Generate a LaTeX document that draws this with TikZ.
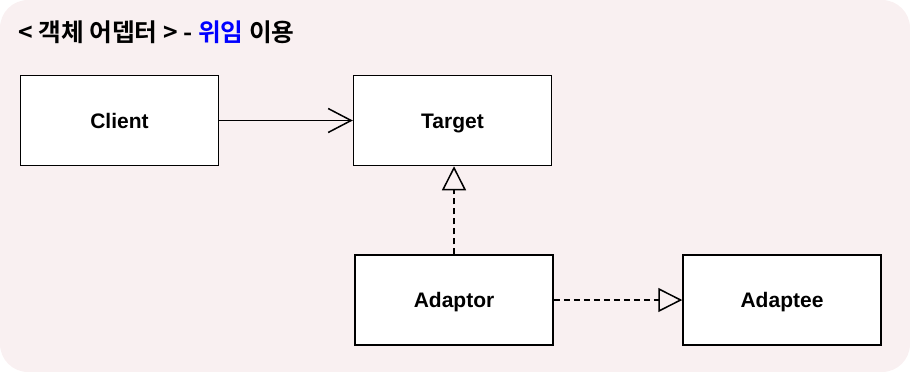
\documentclass[tikz,border=0pt]{standalone}
\usepackage{fontspec}
\usepackage{xcolor}
\usepackage{tikz}
\setmainfont{Liberation Sans}
\newfontfamily\krfont{Noto Sans CJK KR}[BoldFont={Noto Sans CJK KR Bold}]
\definecolor{diagBack}{HTML}{F9F0F1}
\definecolor{diagLine}{HTML}{000000}
\definecolor{diagBlue}{HTML}{0000FF}
\definecolor{diagWhite}{HTML}{FFFFFF}
\usetikzlibrary{arrows.meta,positioning}

\begin{document}
\begin{tikzpicture}[
  x=1pt, y=-1pt,
  classbox/.style={draw=diagLine, line width=1.5pt, fill=diagWhite, minimum width=198pt, minimum height=90pt, align=center, text height=15pt, text depth=0pt, font=\fontsize{21}{24}\selectfont\bfseries},
  assoc/.style={-{Straight Barb[length=23pt, width=24pt, line width=1.5pt]}, line width=1.5pt, diagLine},
  realize/.style={-{Triangle[open, length=24pt, width=24pt, line width=1.5pt]}, line width=1.6pt, diagLine, dash pattern=on 6pt off 4pt}
]

% Background
\useasboundingbox (0,0) rectangle (910,372);
\fill[diagBack, rounded corners=28pt] (0,0) rectangle (910,372);

% Title
\node[anchor=west, inner sep=0pt, font=\krfont\fontsize{24.7}{28}\selectfont\bfseries] (title) at (18,32) {< 객체 어뎁터 > - \textcolor{diagBlue}{위임} 이용};

% Classes
\node[classbox] (client) at (119.5,120.5) {Client};
\node[classbox] (target) at (452.5,120.5) {Target};
\node[classbox] (adaptor) at (454,300) {Adaptor};
\node[classbox] (adaptee) at (782,300) {Adaptee};

% Relations
\draw[assoc] (client) -- (target);
\draw[realize] (adaptor.north) -- (adaptor.north |- target.south);
\draw[realize] (adaptor) -- (adaptee);

\end{tikzpicture}
\end{document}
